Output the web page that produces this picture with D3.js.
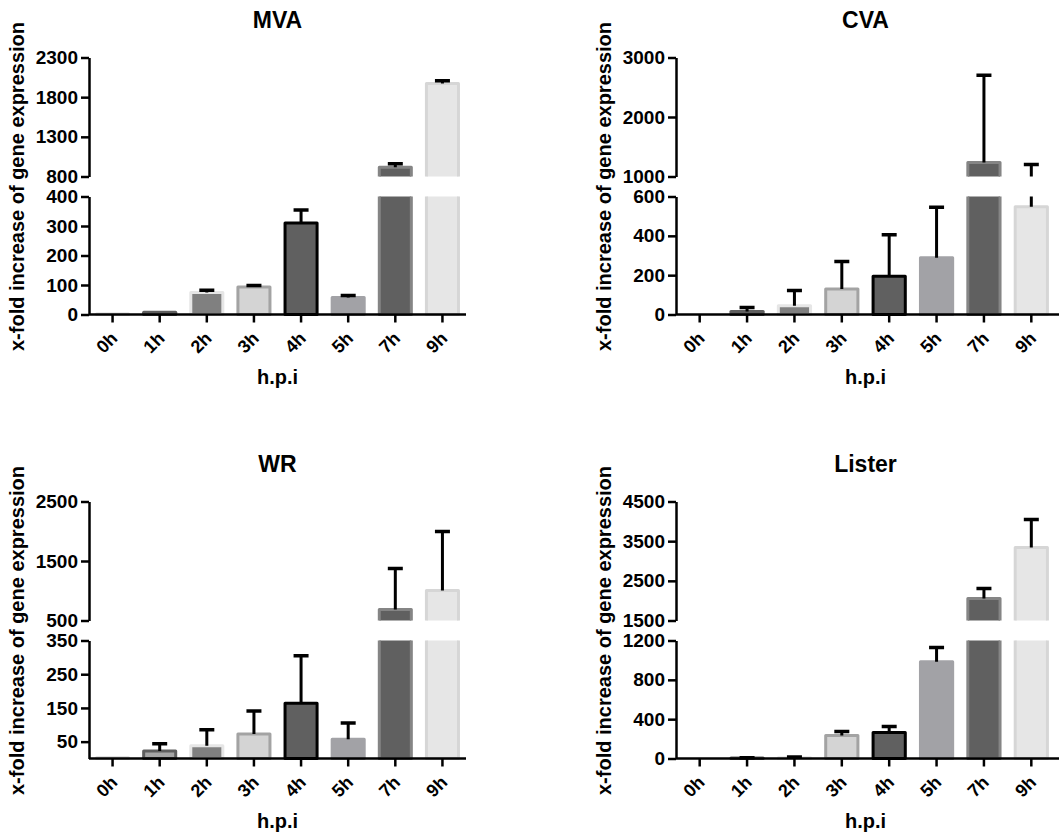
<!DOCTYPE html>
<html>
<head>
<meta charset="utf-8">
<script src="https://cdn.jsdelivr.net/npm/d3@7"></script>
<style>
  body { margin: 0; background: #fff; }
  text { font-family: Arial, "Liberation Sans", sans-serif; font-weight: bold; fill: #000; }
</style>
</head>
<body>
<script>
// time points (hours post infection)
var categories = ["0h", "1h", "2h", "3h", "4h", "5h", "7h", "9h"]

// mean and SD per virus
var mvaMean = [2, 8, 75, 93, 310, 58, 918, 1972]
var mvaSD = [0, 0, 7, 5, 44, 6, 42, 35]
var cvaMean = [0, 15, 45, 130, 195, 288, 1235, 548]
var cvaSD = [0, 20, 77, 140, 210, 257, 1465, 652]
var wrMean = [2, 22, 38, 73, 164, 57, 685, 1004]
var wrSD = [0, 22, 47, 68, 141, 48, 689, 992]
var listerMean = [0, 5, 8, 234, 265, 985, 2054, 3340]
var listerSD = [0, 3, 7, 41, 60, 145, 252, 705]

// axis ticks (lower and upper segment of the broken axis)
var mvaTicksLow = [0, 100, 200, 300, 400]
var mvaTicksHigh = [800, 1300, 1800, 2300]
var cvaTicksLow = [0, 200, 400, 600]
var cvaTicksHigh = [1000, 2000, 3000]
var wrTicksLow = [50, 150, 250, 350]
var wrTicksHigh = [500, 1500, 2500]
var listerTicksLow = [0, 400, 800, 1200]
var listerTicksHigh = [1500, 2500, 3500, 4500]

// bar colours per time point
var barFill = ["#f2f2f2", "#a6a6a6", "#808080", "#d4d4d4", "#606060", "#a2a2a6", "#606060", "#e6e6e6"]
var barStroke = ["#d9d9d9", "#5f5f5f", "#e6e6e6", "#a3a3a3", "#000000", "#a2a2a6", "#858585", "#d6d6d6"]

var W = 1059, H = 835
var svg = d3.select("body").append("svg")
  .attr("width", W)
  .attr("height", H)

var clipCount = 0

function DrawPanel(title, mean, sd, lowDomain, lowTicks, highDomain, highTicks, left, right, axisEnd, base) {
  /* left/right: x range of the bars, axisEnd: where x axis line stops,
     base: y of the zero line */
  var g = svg.append("g")
  var x = d3.scaleBand().domain(categories).range([left, right])
    .paddingInner(0.32).paddingOuter(0.16)
  var bw = x.bandwidth()

  var segs = [
    { y: d3.scaleLinear().domain(lowDomain).range([base, base - 118]), ticks: lowTicks,
      clipTop: base - 118, clipBottom: base + 6 },
    { y: d3.scaleLinear().domain(highDomain).range([base - 138, base - 257]), ticks: highTicks,
      clipTop: base - 275, clipBottom: base - 138 }
  ]

  segs.forEach(function(s) {
    var id = "clip" + (clipCount++)
    g.append("clipPath").attr("id", id)
      .append("rect")
      .attr("x", left - 5).attr("y", s.clipTop)
      .attr("width", W - left + 5).attr("height", s.clipBottom - s.clipTop)

    var sg = g.append("g").attr("clip-path", "url(#" + id + ")")
    // y(0) for the upper segment is far below and gets clipped
    var y0 = s.y(0)

    sg.selectAll("rect.bar").data(categories).enter().append("rect")
      .attr("class", "bar")
      .attr("x", function(d) { return x(d) })
      .attr("width", bw)
      .attr("y", function(d, i) { return s.y(mean[i]) })
      .attr("height", function(d, i) { return Math.max(0, y0 - s.y(mean[i])) })
      .attr("fill", function(d, i) { return barFill[i] })
      .attr("stroke", function(d, i) { return barStroke[i] })
      .attr("stroke-width", 3)
      .attr("stroke-linejoin", "round")

    // upper error bars
    var eb = sg.selectAll("g.err").data(categories).enter().append("g")
      .attr("class", "err")
      .filter(function(d, i) { return sd[i] > 0 })
    eb.append("line")
      .attr("x1", function(d) { return x(d) + bw / 2 })
      .attr("x2", function(d) { return x(d) + bw / 2 })
      .attr("y1", function(d) { return s.y(mean[categories.indexOf(d)]) })
      .attr("y2", function(d) { var i = categories.indexOf(d); return s.y(mean[i] + sd[i]) })
      .attr("stroke", "#000").attr("stroke-width", 3)
    eb.append("line")
      .attr("x1", function(d) { return x(d) + bw / 2 - 7.5 })
      .attr("x2", function(d) { return x(d) + bw / 2 + 7.5 })
      .attr("y1", function(d) { var i = categories.indexOf(d); return s.y(mean[i] + sd[i]) })
      .attr("y2", function(d) { var i = categories.indexOf(d); return s.y(mean[i] + sd[i]) })
      .attr("stroke", "#000").attr("stroke-width", 3.5)

    // y axis segment
    var ax = g.append("g")
      .attr("transform", "translate(" + left + ",0)")
      .call(d3.axisLeft(s.y).tickValues(s.ticks).tickFormat(d3.format("d"))
        .tickSize(8).tickSizeOuter(0).tickPadding(3))
    ax.select(".domain").attr("stroke-width", 2.5)
    ax.selectAll(".tick line").attr("stroke-width", 2.5)
    ax.selectAll(".tick text").style("font-size", "19px")
      .style("font-family", "Arial, 'Liberation Sans', sans-serif").style("font-weight", "bold")
  })

  // x axis
  g.append("line")
    .attr("x1", left).attr("x2", axisEnd)
    .attr("y1", base).attr("y2", base)
    .attr("stroke", "#000").attr("stroke-width", 2.5)
  g.selectAll("line.xt").data(categories).enter().append("line")
    .attr("class", "xt")
    .attr("x1", function(d) { return x(d) + bw / 2 })
    .attr("x2", function(d) { return x(d) + bw / 2 })
    .attr("y1", base).attr("y2", base + 8)
    .attr("stroke", "#000").attr("stroke-width", 2.5)
  g.selectAll("text.xl").data(categories).enter().append("text")
    .attr("class", "xl")
    .attr("text-anchor", "end")
    .attr("font-size", 18)
    .attr("transform", function(d) {
      return "translate(" + (x(d) + bw / 2 + 6) + "," + (base + 25) + ") rotate(-45)"
    })
    .text(function(d) { return d })

  var cx = (left + right) / 2
  g.append("text")
    .attr("x", cx).attr("y", base - 287)
    .attr("text-anchor", "middle")
    .attr("font-size", 23)
    .text(title)
  g.append("text")
    .attr("x", cx).attr("y", base + 69)
    .attr("text-anchor", "middle")
    .attr("font-size", 20)
    .text("h.p.i")
  g.append("text")
    .attr("transform", "translate(" + (left - 65) + "," + (base - 128) + ") rotate(-90)")
    .attr("text-anchor", "middle")
    .attr("font-size", 20)
    .text("x-fold increase of gene expression")
}

DrawPanel("MVA", mvaMean, mvaSD, [0, 400], mvaTicksLow, [800, 2300], mvaTicksHigh, 89, 466, 466, 314.5)
DrawPanel("CVA", cvaMean, cvaSD, [0, 600], cvaTicksLow, [1000, 3000], cvaTicksHigh, 676, 1055, 1059, 314.5)
DrawPanel("WR", wrMean, wrSD, [0, 350], wrTicksLow, [500, 2500], wrTicksHigh, 89, 466, 466, 758.5)
DrawPanel("Lister", listerMean, listerSD, [0, 1200], listerTicksLow, [1500, 4500], listerTicksHigh, 676, 1055, 1059, 758.5)
</script>
</body>
</html>
